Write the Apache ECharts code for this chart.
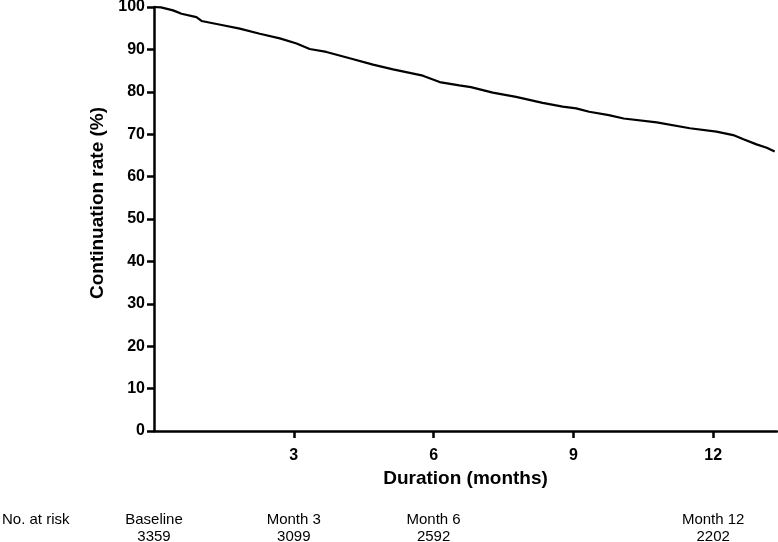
<!DOCTYPE html>
<html>
<head>
<meta charset="utf-8">
<script src="https://cdn.jsdelivr.net/npm/echarts@6/dist/echarts.min.js"></script>
<style>
  html, body { margin: 0; padding: 0; background: #fff; }
  #chart { width: 778px; height: 542px; }
</style>
</head>
<body>
<div id="chart"></div>
<script>
// Kaplan-Meier style continuation curve
const months = [0, 0.15, 0.41, 0.59, 0.91, 1.02, 1.48, 1.84, 2.27, 2.7, 3.06, 3.34, 3.7, 4.2, 4.7, 5.13, 5.77, 6.13, 6.55, 6.8, 7.27, 7.77, 8.34, 8.77, 9.06, 9.34, 9.76, 10.08, 10.79, 11.5, 12.07, 12.43, 12.65, 12.93, 13.15, 13.32];
const rate   = [100, 99.9, 99.2, 98.4, 97.6, 96.7, 95.7, 94.9, 93.7, 92.6, 91.4, 90.1, 89.4, 87.9, 86.4, 85.3, 83.8, 82.3, 81.5, 81.1, 79.8, 78.8, 77.4, 76.5, 76.1, 75.3, 74.5, 73.7, 72.8, 71.4, 70.6, 69.8, 68.8, 67.6, 66.8, 65.9];

const xTicks = [3, 6, 9, 12];
const yTicks = [0, 10, 20, 30, 40, 50, 60, 70, 80, 90, 100];

// Number at risk table
const riskMonths = [0, 3, 6, 12];
const riskLabels = ['Baseline', 'Month 3', 'Month 6', 'Month 12'];
const riskCounts = [3359, 3099, 2592, 2202];

const FONT = "'Liberation Sans', Arial, Helvetica, sans-serif";
const chart = echarts.init(document.getElementById('chart'), null, { renderer: 'canvas' });

const riskMap = {};
riskMonths.forEach((m, i) => { riskMap[m] = riskLabels[i] + '\n' + riskCounts[i]; });

chart.setOption({
  animation: false,
  backgroundColor: '#fff',
  grid: { left: 154, right: 1, top: 7, bottom: 111, containLabel: false, outerBoundsMode: 'none' },
  xAxis: [{
    type: 'value',
    min: 0,
    max: 13.37,
    interval: 3,
    name: 'Duration (months)',
    nameLocation: 'middle',
    nameGap: 37,
    nameTextStyle: { fontFamily: FONT, fontWeight: 'bold', fontSize: 19, color: '#000' },
    axisLine: { show: true, onZero: false, lineStyle: { color: '#000', width: 2.5 } },
    axisTick: { show: true, length: 7, customValues: xTicks, lineStyle: { color: '#000', width: 2.5 } },
    axisLabel: { customValues: xTicks, margin: 17, fontFamily: FONT, fontWeight: 'bold', fontSize: 16, color: '#000' },
    splitLine: { show: false }
  }, {
    type: 'value',
    min: 0,
    max: 13.37,
    position: 'bottom',
    axisLine: { show: false },
    axisTick: { show: false },
    splitLine: { show: false },
    axisLabel: {
      customValues: riskMonths,
      margin: 80,
      fontFamily: FONT,
      fontSize: 15,
      lineHeight: 17.5,
      color: '#000',
      align: 'center',
      formatter: v => riskMap[v] || ''
    }
  }],
  yAxis: {
    type: 'value',
    min: 0,
    max: 100,
    interval: 10,
    name: 'Continuation rate (%)',
    nameLocation: 'middle',
    nameGap: 41,
    nameTextStyle: { fontFamily: FONT, fontWeight: 'bold', fontSize: 19, color: '#000', padding: [0, 0, 0, 32] },
    axisLine: { show: true, lineStyle: { color: '#000', width: 2.5 } },
    axisTick: { show: true, length: 7, lineStyle: { color: '#000', width: 2.5 } },
    axisLabel: { margin: 9, fontFamily: FONT, fontWeight: 'bold', fontSize: 16, color: '#000' },
    splitLine: { show: false }
  },
  graphic: [{
    type: 'text',
    left: 2,
    top: 512,
    style: { text: 'No. at risk', font: "15px 'Liberation Sans', Arial, sans-serif", fill: '#000' }
  }],
  series: [{
    type: 'line',
    xAxisIndex: 0,
    data: months.map((m, i) => [m, rate[i]]),
    showSymbol: false,
    symbol: 'none',
    clip: false,
    lineStyle: { color: '#000', width: 2.2 }
  }]
});
</script>
</body>
</html>
